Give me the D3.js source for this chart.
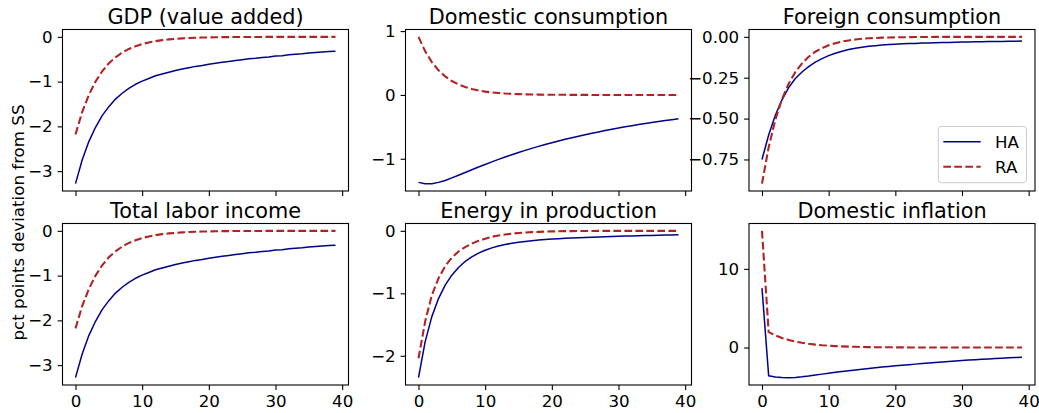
<!DOCTYPE html>
<html>
<head>
<meta charset="utf-8">
<script src="https://cdn.jsdelivr.net/npm/d3@7"></script>
<style>
  body { margin: 0; background: #fff; }
  svg { display: block; }
  text { font-family: "DejaVu Sans", sans-serif; fill: #000; }
</style>
</head>
<body>
<svg id="chart" width="1039" height="413"></svg>
<script>
// Quarters after the shock
const periods = d3.range(40);
const xTicks = [0, 10, 20, 30, 40];

const titles = ["GDP (value added)", "Domestic consumption", "Foreign consumption",
                "Total labor income", "Energy in production", "Domestic inflation"];
const seriesNames = ["HA", "RA"];

// GDP (value added)
const gdpHA = [-3.28,-2.75,-2.34,-2.02,-1.76,-1.56,-1.39,-1.26,-1.15,-1.06,-0.99,-0.93,-0.87,-0.83,-0.79,-0.75,-0.72,-0.69,-0.66,-0.64,-0.61,-0.59,-0.57,-0.55,-0.53,-0.51,-0.49,-0.48,-0.46,-0.45,-0.43,-0.42,-0.40,-0.39,-0.38,-0.36,-0.35,-0.34,-0.33,-0.32];
const gdpRA = [-2.18,-1.68,-1.30,-1.00,-0.77,-0.59,-0.46,-0.35,-0.27,-0.21,-0.16,-0.125,-0.096,-0.074,-0.057,-0.044,-0.034,-0.026,-0.020,-0.016,-0.012,-0.009,-0.007,-0.006,-0.004,-0.003,-0.003,-0.002,-0.002,-0.001,-0.001,-0.001,-0.001,0,0,0,0,0,0,0];
const gdpTicks = [0, -1, -2, -3];

// Domestic consumption
const dcHA = [-1.37,-1.39,-1.39,-1.37,-1.34,-1.30,-1.258,-1.215,-1.172,-1.130,-1.089,-1.049,-1.010,-0.973,-0.937,-0.902,-0.869,-0.837,-0.806,-0.776,-0.748,-0.721,-0.695,-0.670,-0.646,-0.623,-0.600,-0.579,-0.558,-0.538,-0.518,-0.500,-0.482,-0.464,-0.448,-0.432,-0.416,-0.401,-0.387,-0.373];
const dcRA = [0.91,0.684,0.514,0.386,0.290,0.218,0.164,0.123,0.093,0.070,0.052,0.039,0.030,0.022,0.017,0.013,0.009,0.007,0.005,0.004,0.003,0.002,0.002,0.001,0.001,0.001,0,0,0,0,0,0,0,0,0,0,0,0,0,0];
const dcTicks = [1, 0, -1];

// Foreign consumption
const fcHA = [-0.75,-0.60,-0.48,-0.385,-0.31,-0.255,-0.215,-0.182,-0.155,-0.133,-0.115,-0.100,-0.088,-0.078,-0.070,-0.064,-0.058,-0.054,-0.050,-0.047,-0.045,-0.043,-0.041,-0.040,-0.038,-0.037,-0.036,-0.035,-0.034,-0.033,-0.032,-0.031,-0.030,-0.030,-0.029,-0.028,-0.028,-0.027,-0.027,-0.026];
const fcRA = [-0.898,-0.675,-0.507,-0.381,-0.286,-0.215,-0.162,-0.122,-0.091,-0.069,-0.052,-0.039,-0.029,-0.022,-0.016,-0.012,-0.009,-0.007,-0.005,-0.004,-0.003,-0.002,-0.002,-0.001,-0.001,-0.001,0,0,0,0,0,0,0,0,0,0,0,0,0,0];
const fcTicks = [0, -0.25, -0.5, -0.75];

// Total labor income
const labHA = [-3.28,-2.75,-2.34,-2.02,-1.76,-1.56,-1.39,-1.26,-1.15,-1.06,-0.99,-0.93,-0.87,-0.83,-0.79,-0.75,-0.72,-0.69,-0.66,-0.64,-0.61,-0.59,-0.57,-0.55,-0.53,-0.51,-0.49,-0.48,-0.46,-0.45,-0.43,-0.42,-0.40,-0.39,-0.38,-0.36,-0.35,-0.34,-0.33,-0.32];
const labRA = [-2.18,-1.68,-1.30,-1.00,-0.77,-0.59,-0.46,-0.35,-0.27,-0.21,-0.16,-0.125,-0.096,-0.074,-0.057,-0.044,-0.034,-0.026,-0.020,-0.016,-0.012,-0.009,-0.007,-0.006,-0.004,-0.003,-0.003,-0.002,-0.002,-0.001,-0.001,-0.001,-0.001,0,0,0,0,0,0,0];
const labTicks = [0, -1, -2, -3];

// Energy in production
const enHA = [-2.35,-1.774,-1.373,-1.084,-0.870,-0.709,-0.586,-0.490,-0.416,-0.357,-0.310,-0.273,-0.243,-0.219,-0.199,-0.182,-0.169,-0.157,-0.147,-0.139,-0.131,-0.125,-0.119,-0.114,-0.109,-0.105,-0.101,-0.097,-0.093,-0.090,-0.087,-0.084,-0.081,-0.078,-0.076,-0.073,-0.070,-0.068,-0.066,-0.064];
const enRA = [-2.04,-1.45,-1.03,-0.76,-0.565,-0.43,-0.33,-0.26,-0.205,-0.16,-0.125,-0.095,-0.075,-0.058,-0.045,-0.035,-0.027,-0.021,-0.016,-0.012,-0.009,-0.007,-0.005,-0.004,-0.003,-0.002,-0.002,-0.001,-0.001,0,0,0,0,0,0,0,0,0,0,0];
const enTicks = [0, -1, -2];

// Domestic inflation
const infHA = [7.55,-3.60,-3.76,-3.81,-3.83,-3.80,-3.72,-3.62,-3.50,-3.38,-3.26,-3.15,-3.05,-2.95,-2.85,-2.75,-2.66,-2.57,-2.49,-2.41,-2.33,-2.25,-2.18,-2.11,-2.04,-1.97,-1.90,-1.83,-1.77,-1.71,-1.65,-1.60,-1.55,-1.50,-1.45,-1.40,-1.36,-1.31,-1.27,-1.23];
const infRA = [14.83,1.95,1.54,1.22,0.96,0.76,0.60,0.47,0.37,0.29,0.23,0.18,0.145,0.115,0.09,0.07,0.055,0.045,0.035,0.028,0.022,0.017,0.013,0.010,0.008,0.006,0.005,0.004,0.003,0.002,0.002,0.001,0.001,0,0,0,0,0,0,0];
const infTicks = [10, 0];

const yLabel = "pct points deviation from SS";

// Panel table in grid order (row-major, 2 x 3)
const panels = [
  { title: titles[0], ha: gdpHA, ra: gdpRA, ticks: gdpTicks, fmt: d3.format("d") },
  { title: titles[1], ha: dcHA,  ra: dcRA,  ticks: dcTicks,  fmt: d3.format("d") },
  { title: titles[2], ha: fcHA,  ra: fcRA,  ticks: fcTicks,  fmt: d3.format(".2f"), legend: true },
  { title: titles[3], ha: labHA, ra: labRA, ticks: labTicks, fmt: d3.format("d") },
  { title: titles[4], ha: enHA,  ra: enRA,  ticks: enTicks,  fmt: d3.format("d") },
  { title: titles[5], ha: infHA, ra: infRA, ticks: infTicks, fmt: d3.format("d") }
];

// Layout
const colLeft = [62.5, 405.5, 749];
const rowTop = [29.5, 223.5];
const boxW = 286, boxH = 161.5;
const tickLen = 4.9, tickPad = 4.9;
const tickFont = 16.67, titleFont = 20.8;
const colorHA = "#00008b", colorRA = "#b22222";
const widthHA = 1.5, widthRA = 2.08;
const dashRA = "7.7,3.3";

const svg = d3.select("#chart");

// x limits with 5% margins around the data range
const [t0, t1] = d3.extent(periods);
const tPad = (t1 - t0) * 0.05;

panels.forEach((p, i) => {
  const r = Math.floor(i / 3), c = i % 3;
  const g = svg.append("g").attr("transform", `translate(${colLeft[c]},${rowTop[r]})`);

  const x = d3.scaleLinear().domain([t0 - tPad, t1 + tPad]).range([0, boxW]);
  const all = p.ha.concat(p.ra);
  const lo = d3.min(all), hi = d3.max(all), pad = (hi - lo) * 0.05;
  const y = d3.scaleLinear().domain([lo - pad, hi + pad]).range([boxH, 0]);

  // Series
  const line = arr => d3.line().x((d, k) => x(periods[k])).y(d => y(d))(arr);
  g.append("path").attr("d", line(p.ha))
    .attr("fill", "none").attr("stroke", colorHA).attr("stroke-width", widthHA)
    .attr("stroke-linejoin", "round");
  g.append("path").attr("d", line(p.ra))
    .attr("fill", "none").attr("stroke", colorRA).attr("stroke-width", widthRA)
    .attr("stroke-dasharray", dashRA);

  // Axes
  const ax = g.append("g").attr("transform", `translate(0,${boxH})`)
    .call(d3.axisBottom(x).tickValues(xTicks).tickSize(tickLen).tickPadding(tickPad)
      .tickFormat(r === 1 ? d3.format("d") : () => ""));
  const ay = g.append("g")
    .call(d3.axisLeft(y).tickValues(p.ticks).tickSize(tickLen).tickPadding(tickPad)
      .tickFormat(p.fmt));
  [ax, ay].forEach(a => {
    a.select(".domain").remove();
    a.selectAll(".tick line").attr("stroke", "#000").attr("stroke-width", 1.1);
    a.selectAll(".tick text").attr("font-size", tickFont)
      .attr("font-family", "DejaVu Sans, sans-serif").attr("fill", "#000");
  });

  // Frame
  g.append("rect").attr("x", 0).attr("y", 0).attr("width", boxW).attr("height", boxH)
    .attr("fill", "none").attr("stroke", "#000").attr("stroke-width", 1.1);

  // Title
  g.append("text").attr("x", boxW / 2).attr("y", -6)
    .attr("text-anchor", "middle").attr("font-size", titleFont).text(p.title);

  // Legend
  if (p.legend) {
    const lg = g.append("g").attr("transform", `translate(${boxW - 96.7},${boxH - 64.5})`);
    lg.append("rect").attr("x", 0).attr("y", 0).attr("width", 88.2).attr("height", 56.2)
      .attr("rx", 3).attr("fill", "#fff").attr("fill-opacity", 0.8)
      .attr("stroke", "#cccccc").attr("stroke-width", 1);
    [[colorHA, widthHA, null], [colorRA, widthRA, dashRA]].forEach(([col, w, dash], k) => {
      const cy = 15.2 + k * 25;
      lg.append("line").attr("x1", 5).attr("x2", 42.4).attr("y1", cy).attr("y2", cy)
        .attr("stroke", col).attr("stroke-width", w).attr("stroke-dasharray", dash);
      lg.append("text").attr("x", 56.7).attr("y", cy).attr("dy", "0.36em")
        .attr("font-size", tickFont).text(seriesNames[k]);
    });
  }
});

// Shared y-axis label
svg.append("text")
  .attr("transform", "translate(24,222.5) rotate(-90)")
  .attr("text-anchor", "middle").attr("font-size", tickFont)
  .text(yLabel);
</script>
</body>
</html>
